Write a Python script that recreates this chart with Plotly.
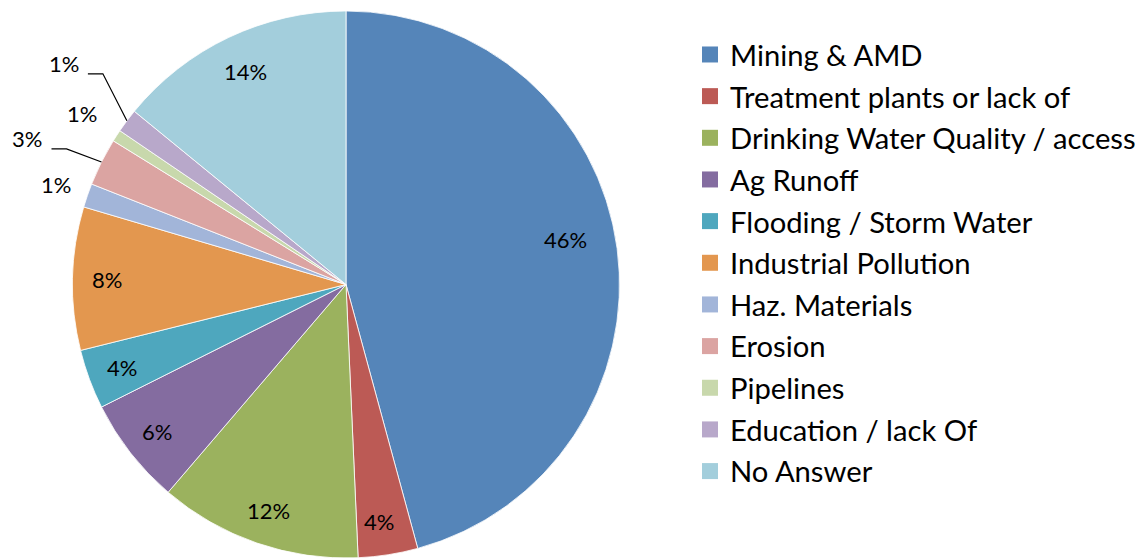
import math
import plotly.graph_objects as go

# ---------------- data ----------------
categories = ["Mining & AMD", "Treatment plants or lack of", "Drinking Water Quality / access",
              "Ag Runoff", "Flooding / Storm Water", "Industrial Pollution", "Haz. Materials",
              "Erosion", "Pipelines", "Education / lack Of", "No Answer"]
counts = [65, 5, 17, 9, 5, 12, 2, 4, 1, 2, 20]

# ---------------- style ----------------
colors = ["#5585B9", "#BC5A55", "#9BB25E", "#846CA0", "#4EA7BE", "#E3974F",
          "#A2B5D9", "#DBA4A2", "#C8D8AC", "#B8A8CA", "#A3CEDC"]
# page has an 8px body margin, so the figure is drawn 8px right/down
OFF = 8
W, H = 1143, 558 - OFF
FONT = "Lato"

# label placement style per slice: (mode, param, angle tweak)
label_style = [("in", 0.82, -4), ("in", 0.875, 1), ("in", 0.875, 0), ("in", 0.875, 0),
               ("in", 0.875, 0), ("in", 0.875, 0), ("out", 1.12, 0), ("lead", (-35, -13), 0),
               ("out", 1.15, 0), ("lead", (-24, -47), 0), ("in", 0.86, 0)]

# pie geometry (figure pixels)
top_px = 11 - OFF
dom_h = H - top_px
R = dom_h / 2.0
cx, cy = 346.0 - OFF, top_px + R
dom_x = [(cx - R) / W, (cx + R) / W]
dom_y = [0.0, 1 - top_px / H]

fig = go.Figure()
fig.add_trace(go.Pie(
    labels=categories, values=counts, sort=False, direction="clockwise", rotation=0,
    marker=dict(colors=colors, line=dict(color="white", width=0.8)),
    textinfo="none", hoverinfo="label+percent", showlegend=False,
    domain=dict(x=dom_x, y=dom_y),
))

# legend entries
for name, col in zip(categories, colors):
    fig.add_trace(go.Scatter(x=[None], y=[None], mode="markers", name=name,
                             legendgroup=name,
                             marker=dict(symbol="square", size=18, color=col)))

def px2paper(x, y):
    return x / W, 1 - y / H

total = sum(counts)
cum = 0
shapes = []
annotations = []
for v, (mode, p, da) in zip(counts, label_style):
    mid = 360.0 * (cum + v / 2.0) / total + da
    cum += v
    pct = f"{round(100.0 * v / total):d}%"
    s, c = math.sin(math.radians(mid)), math.cos(math.radians(mid))
    if mode in ("in", "out"):
        lx, ly = cx + p * R * s, cy - p * R * c
        x, y = px2paper(lx, ly)
        annotations.append(dict(x=x, y=y, xref="paper", yref="paper", text=pct,
                                showarrow=False, xanchor="center", yanchor="middle",
                                font=dict(family=FONT, size=22, color="black")))
    else:
        ex, ey = cx + R * s, cy - R * c
        bx, by = ex + p[0], ey + p[1]
        hx = bx - 15
        pts = [px2paper(ex, ey), px2paper(bx, by), px2paper(hx, by)]
        path = "M " + " L ".join(f"{a},{b}" for a, b in pts)
        shapes.append(dict(type="path", path=path, xref="paper", yref="paper",
                           line=dict(color="black", width=1.2)))
        x, y = px2paper(hx - 7, by - 10)
        annotations.append(dict(x=x, y=y, xref="paper", yref="paper", text=pct,
                                showarrow=False, xanchor="right", yanchor="middle",
                                font=dict(family=FONT, size=22, color="black")))

fig.update_layout(
    width=W, height=H,
    margin=dict(l=0, r=0, t=0, b=0),
    paper_bgcolor="white", plot_bgcolor="white",
    xaxis=dict(visible=False), yaxis=dict(visible=False),
    shapes=shapes, annotations=annotations,
    legend=dict(x=682 / W, y=1 - 21 / H, xanchor="left", yanchor="top",
                font=dict(family=FONT, size=29.2, color="black"),
                tracegroupgap=0.7, bgcolor="rgba(0,0,0,0)"),
    showlegend=True,
)

fig.write_html("out.html")
